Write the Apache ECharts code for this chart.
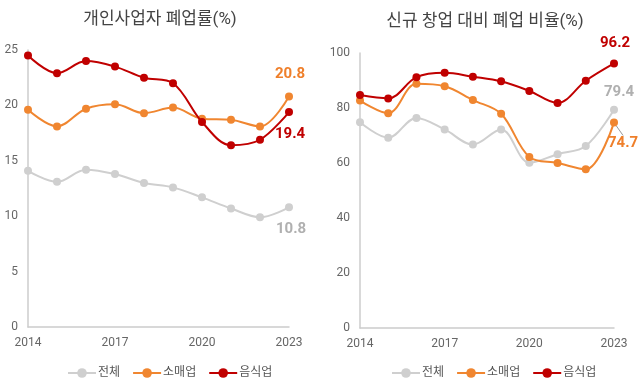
<!DOCTYPE html>
<html>
<head>
<meta charset="utf-8">
<script src="https://cdn.jsdelivr.net/npm/echarts@6/dist/echarts.min.js"></script>
<style>
html,body{margin:0;padding:0;background:#fff;}
#main{width:643px;height:379px;}
</style>
</head>
<body>
<div id="main"></div>
<script>
const years = ['2014','2015','2016','2017','2018','2019','2020','2021','2022','2023'];
const seriesNames = ['전체', '소매업', '음식업'];
const titleLeft = '개인사업자 폐업률(%)';
const titleRight = '신규 창업 대비 폐업 비율(%)';

// Left chart: 개인사업자 폐업률
const closeAll = [14.1, 13.1, 14.2, 13.8, 13.0, 12.6, 11.7, 10.7, 9.9, 10.8];
const closeRetail = [19.6, 18.1, 19.7, 20.1, 19.3, 19.8, 18.8, 18.7, 18.1, 20.8];
const closeFood = [24.5, 22.9, 24.0, 23.5, 22.5, 22.0, 18.5, 16.4, 16.9, 19.4];

// Right chart: 신규 창업 대비 폐업 비율
const ratioAll = [74.8, 69.2, 76.4, 72.2, 66.7, 72.2, 60.1, 63.2, 66.2, 79.4];
const ratioRetail = [82.7, 78.1, 88.8, 87.9, 82.9, 77.9, 62.2, 60.0, 57.7, 74.7];
const ratioFood = [84.7, 83.5, 91.2, 92.8, 91.4, 89.7, 86.2, 81.8, 89.9, 96.2];

const leftTicks = {min: 0, max: 25, interval: 5};
const rightTicks = {min: 0, max: 100, interval: 20};

const colors = {'전체': '#cfcfcf', '소매업': '#f08630', '음식업': '#c00000'};
const labelColors = {'전체': '#b0b0b0', '소매업': '#ef7f2a', '음식업': '#c00000'};
const FONT = 'Roboto, "Noto Sans CJK KR", sans-serif';

function mk(name, values, axisIdx, labelOffset, guide) {
  const last = values.length - 1;
  const s = {
    name: name,
    type: 'line',
    xAxisIndex: axisIdx,
    yAxisIndex: axisIdx,
    smooth: 0.35,
    symbol: 'circle',
    symbolSize: 8,
    lineStyle: {width: 2, color: colors[name]},
    itemStyle: {color: colors[name]},
    z: name === '음식업' ? 5 : (name === '소매업' ? 4 : 3),
    data: values.map((v, i) => i === last ? {
      value: v,
      label: {
        show: true,
        position: guide ? 'right' : 'inside',
        offset: guide ? [0, 0] : labelOffset,
        distance: 0,
        formatter: '{c}',
        color: labelColors[name],
        fontSize: 15,
        fontWeight: 'bold',
        fontFamily: FONT
      }
    } : v)
  };
  if (guide) {
    s.labelLayout = {x: labelOffset[0], y: labelOffset[1], align: 'left', verticalAlign: 'middle'};
    s.labelLine = {show: true, lineStyle: {color: '#999', width: 1}, length2: 0};
  }
  return s;
}

const chart = echarts.init(document.getElementById('main'));

const grids = [
  {left: 28, top: 50, width: 261, height: 277},
  {left: 360, top: 53, width: 254, height: 275}
];

function xAx(gi) {
  return {
    type: 'category', gridIndex: gi, data: years, boundaryGap: false,
    axisLine: {lineStyle: {color: '#cccccc', width: 1.5}},
    axisTick: {show: false},
    axisLabel: {interval: 2, color: '#666', fontSize: 12, fontFamily: FONT, margin: 10}
  };
}
function yAx(gi, t) {
  return {
    type: 'value', gridIndex: gi, min: t.min, max: t.max, interval: t.interval,
    axisLine: {show: true, lineStyle: {color: '#cccccc', width: 1.5}},
    axisTick: {show: false},
    splitLine: {show: false},
    axisLabel: {color: '#666', fontSize: 12, fontFamily: FONT, margin: 10}
  };
}

const legendBase = {
  data: seriesNames,
  itemWidth: 28, itemHeight: 12, itemGap: 12,
  textStyle: {color: '#555', fontSize: 12, fontFamily: FONT, padding: [0, 0, 0, -3]},
  top: 362
};

chart.setOption({
  backgroundColor: '#fff',
  animation: false,
  title: [
    {text: titleLeft, left: 155, top: 6, textAlign: 'center',
     textStyle: {fontSize: 17, fontWeight: 'normal', color: '#444', fontFamily: FONT}},
    {text: titleRight, left: 480, top: 8, textAlign: 'center',
     textStyle: {fontSize: 17, fontWeight: 'normal', color: '#444', fontFamily: FONT}}
  ],
  legend: [
    Object.assign({}, legendBase, {left: 62}),
    Object.assign({}, legendBase, {left: 386})
  ],
  grid: grids,
  xAxis: [xAx(0), xAx(1)],
  yAxis: [yAx(0, leftTicks), yAx(1, rightTicks)],
  series: [
    mk('전체', closeAll, 0, [2, 22]),
    mk('소매업', closeRetail, 0, [1, -22]),
    mk('음식업', closeFood, 0, [1, 22]),
    mk('전체', ratioAll, 1, [5, -17]),
    mk('소매업', ratioRetail, 1, [608, 143], true),
    mk('음식업', ratioFood, 1, [1, -20])
  ]
});
</script>
</body>
</html>
